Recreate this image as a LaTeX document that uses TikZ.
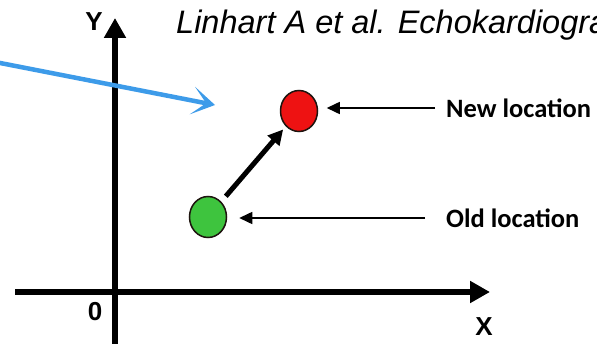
\documentclass[tikz,border=0pt]{standalone}
\usepackage{fontspec}
\setmainfont{Liberation Sans}
\newfontfamily\calib{Carlito}
\usetikzlibrary{arrows.meta,shapes.geometric}
\definecolor{bluearr}{RGB}{61,155,233}
\definecolor{dotgreen}{RGB}{62,196,62}
\definecolor{dotred}{RGB}{238,18,18}
\definecolor{dotline}{RGB}{30,20,15}
\tikzset{
  axis/.style={line width=6pt,-{Triangle[width=21pt,length=20pt]}},
  dot/.style={ellipse,draw=dotline,line width=1.5pt,minimum width=37pt,minimum height=41pt,inner sep=0pt},
  lbl/.style={font=\calib\bfseries\fontsize{26.5}{30}\selectfont,inner sep=0pt,anchor=west},
  axlbl/.style={font=\bfseries\fontsize{26}{30}\selectfont,inner sep=0pt},
  pointer/.style={line width=1.5pt,-{Triangle[width=12pt,length=13pt]}},
  move/.style={line width=5pt,-{Triangle[width=15pt,length=15pt]}},
  bluepointer/.style={bluearr,line width=4.5pt,-{Stealth[width=28pt,length=23pt,inset=14pt]}},
  titletext/.style={font=\itshape\fontsize{32.5}{36}\selectfont,inner sep=0pt,anchor=base west}
}
\begin{document}
\begin{tikzpicture}[x=1pt,y=-1pt]
\useasboundingbox (0,0) rectangle (597,344);
\clip (0,0) rectangle (597,344);
\fill[white] (0,0) rectangle (597,344);
% title
\node[titletext] (ttl) at (176,34) {Linhart A et al. Echokardiografie};
% axes
\coordinate (ybot) at (115,350);
\coordinate (ytop) at (115,18);
\coordinate (xl) at (15,292);
\coordinate (xr) at (490,292);
\draw[axis] (ybot) -- (ytop);
\draw[axis] (xl) -- (xr);
\node[axlbl] (ylab) at (94,22) {Y};
\node[axlbl] (xlab) at (484,326.5) {X};
\node[axlbl] (zero) at (95,312) {0};
% blue arrow
\coordinate (bs) at (-5,62);
\coordinate (bt) at (215,105);
\draw[bluepointer] (bs) -- (bt);
% dots
\node[dot,fill=dotgreen] (old) at (208,217) {};
\node[dot,fill=dotred] (new) at (299,111) {};
\draw[move,shorten <=7pt,shorten >=4pt] (old) -- (new);
% labels
\node[lbl] (oldl) at (446,218) {Old location};
\node[lbl] (newl) at (446,108) {New location};
\draw[pointer,shorten <=21pt,shorten >=12pt] (oldl.west) -- (oldl.west -| old.east);
\draw[pointer,shorten <=11pt,shorten >=8.5pt] (newl.west) -- (newl.west -| new.east);
\end{tikzpicture}
\end{document}
